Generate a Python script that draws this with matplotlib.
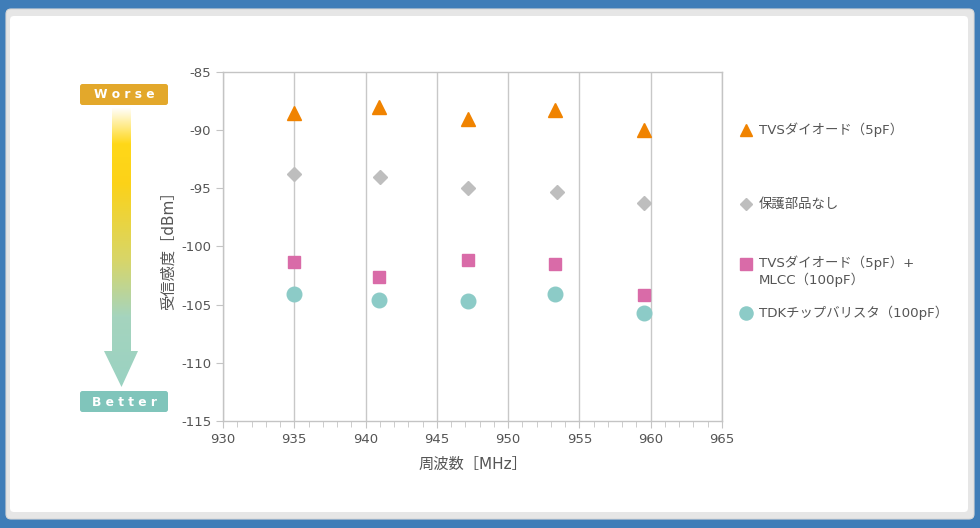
import numpy as np
import matplotlib
matplotlib.use("Agg")
import matplotlib.pyplot as plt
from matplotlib.patches import FancyBboxPatch, Polygon
from matplotlib.colors import LinearSegmentedColormap

plt.rcParams['font.family'] = ['DejaVu Sans', 'Noto Sans CJK JP']
plt.rcParams['axes.unicode_minus'] = False

# ---- data ----
series_labels = ["TVSダイオード（5pF）", "保護部品なし", "TVSダイオード（5pF）+\nMLCC（100pF）", "TDKチップバリスタ（100pF）"]
freq_tvs = [935.0, 940.95, 947.2, 953.3, 959.5]
sens_tvs = [-88.5, -88.0, -89.0, -88.25, -89.95]
freq_none = [935.0, 941.0, 947.2, 953.4, 959.5]
sens_none = [-93.8, -94.05, -94.95, -95.35, -96.25]
freq_mlcc = [935.0, 940.95, 947.2, 953.3, 959.5]
sens_mlcc = [-101.3, -102.6, -101.15, -101.5, -104.15]
freq_var = [935.0, 940.95, 947.2, 953.3, 959.55]
sens_var = [-104.05, -104.6, -104.7, -104.05, -105.7]
xticks = [930, 935, 940, 945, 950, 955, 960, 965]
yticks = [-85, -90, -95, -100, -105, -110, -115]

colors = ["#F08300", "#BEBEBE", "#D96BA8", "#8CCBC7"]
markers = ["^", "D", "s", "o"]
msizes = [10, 7, 9, 10.5]

W, H = 980, 528
fig = plt.figure(figsize=(W / 100, H / 100), dpi=100)
fig.patch.set_facecolor("#3F7DB8")

bg = fig.add_axes([0, 0, 1, 1], zorder=0)
bg.set_xlim(0, W)
bg.set_ylim(H, 0)
bg.axis("off")
bg.add_patch(FancyBboxPatch((6, 9), 968, 510, boxstyle="round,pad=0,rounding_size=5",
                            fc="#E6E6E6", ec="#D8D8D8", lw=0.8))
bg.add_patch(FancyBboxPatch((10, 16), 958, 496, boxstyle="round,pad=0,rounding_size=4",
                            fc="white", ec="none"))

# gradient arrow
cmap = LinearSegmentedColormap.from_list("g", [(0, "#FFFFFF"), (0.13, "#FFD819"), (0.27, "#FCD218"),
                                               (0.55, "#D7D66A"), (0.75, "#A5D4BE"), (1.0, "#9AD2C2")])
grad = np.linspace(0, 1, 256).reshape(-1, 1)
img = bg.imshow(grad, cmap=cmap, extent=(100, 142, 387, 107), aspect="auto", zorder=2)
arrow = Polygon([(112, 107), (131, 107), (131, 351), (138, 351), (121.5, 387), (104, 351), (112, 351)],
                closed=True, fc="none", ec="none", transform=bg.transData)
bg.add_patch(arrow)
img.set_clip_path(arrow)
bg.set_xlim(0, W)
bg.set_ylim(H, 0)

bg.add_patch(FancyBboxPatch((80, 84), 88, 21, boxstyle="round,pad=0,rounding_size=2.5",
                            fc="#E3A82B", ec="none", zorder=3))
bg.text(124, 95, "W o r s e", color="white", fontsize=8.8, fontweight="bold",
        ha="center", va="center", zorder=4)
bg.add_patch(FancyBboxPatch((80, 391), 88, 21, boxstyle="round,pad=0,rounding_size=2.5",
                            fc="#80C5BB", ec="none", zorder=3))
bg.text(124, 402, "B e t t e r", color="white", fontsize=8.8, fontweight="bold",
        ha="center", va="center", zorder=4)

# legend (manual)
leg_y = [130, 204, 264, 313]
for lab, c, m, ms, y in zip(series_labels, colors, markers, msizes, leg_y):
    bg.plot([746], [y], marker=m, color=c, ms=ms * 0.9, ls="none", zorder=3)
    if "\n" in lab:
        bg.text(759, 255, lab, fontsize=9.6, color="#555555", va="top",
                ha="left", linespacing=1.25, zorder=3)
    else:
        bg.text(759, y, lab, fontsize=9.6, color="#555555", va="center",
                ha="left", zorder=3)

# main chart
ax = fig.add_axes([223 / W, 1 - 421 / H, (722 - 223) / W, (421 - 72) / H], zorder=1)
ax.set_facecolor("white")
ax.set_xlim(930, 965)
ax.set_ylim(-115, -85)
ax.set_xticks(xticks)
ax.set_yticks(yticks)
ax.set_xticks(np.arange(930, 966, 1), minor=True)
ax.xaxis.grid(True, which="major", color="#C8C8C8", lw=1)
ax.set_axisbelow(True)
for s in ax.spines.values():
    s.set_color("#C4C4C4")
    s.set_linewidth(1)
ax.tick_params(axis="both", which="major", colors="#C4C4C4", labelcolor="#555555",
               labelsize=9.5, length=5, direction="out")
ax.tick_params(axis="x", which="minor", colors="#C4C4C4", length=4, direction="out")

for fx, fy, c, m, ms in zip([freq_tvs, freq_none, freq_mlcc, freq_var],
                            [sens_tvs, sens_none, sens_mlcc, sens_var],
                            colors, markers, msizes):
    ax.plot(fx, fy, marker=m, color=c, ms=ms, ls="none", clip_on=False, zorder=3)

ax.set_xlabel("周波数［MHz］", fontsize=11, color="#555555", labelpad=8)
ax.set_ylabel("受信感度［dBm］", fontsize=11, color="#555555", labelpad=4)

fig.savefig("out.png", dpi=100, facecolor=fig.get_facecolor())
